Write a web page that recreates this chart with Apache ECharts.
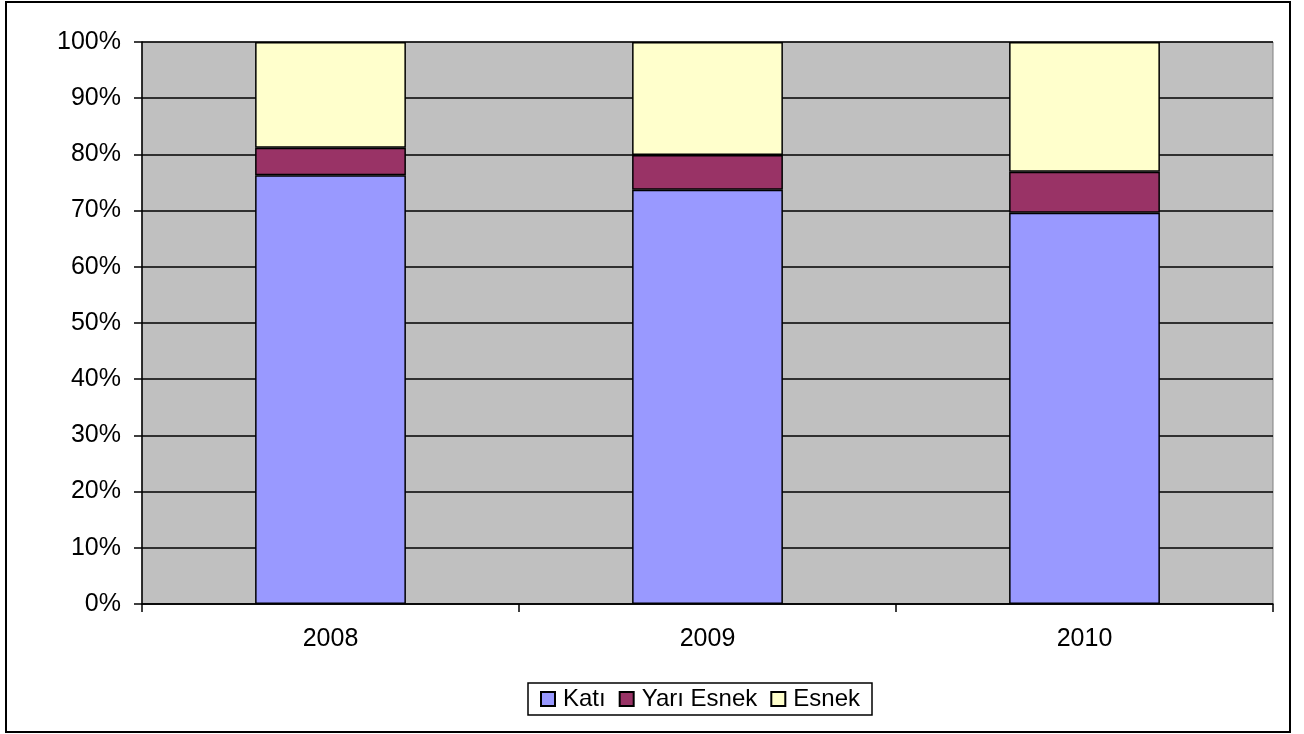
<!DOCTYPE html>
<html>
<head>
<meta charset="utf-8">
<script src="https://cdn.jsdelivr.net/npm/echarts@6/dist/echarts.min.js"></script>
<style>
  html, body { margin: 0; padding: 0; background: #fff; }
  #chart { width: 1304px; height: 734px; }
</style>
</head>
<body>
<div id="chart"></div>
<script>
const years = ['2008', '2009', '2010'];
const kati = [76.3, 73.7, 69.6];
const yariEsnek = [4.9, 6.2, 7.3];
const esnek = [18.8, 20.1, 23.1];

const font = "'Liberation Sans', Arial, sans-serif";

let chart = echarts.init(document.getElementById('chart'));

function barSeries(name, data, color) {
  return {
    name: name,
    type: 'bar',
    stack: 'total',
    barWidth: '40%',
    itemStyle: {
      color: color,
      borderColor: '#000',
      borderWidth: 1.5
    },
    emphasis: { disabled: true },
    data: data
  };
}

let option = {
  animation: false,
  textStyle: { fontFamily: font },
  graphic: [{
    type: 'rect',
    shape: { x: 6, y: 2, width: 1284, height: 730 },
    style: { fill: 'none', stroke: '#000', lineWidth: 2 },
    silent: true
  }],
  grid: {
    left: 142,
    right: 31,
    top: 42,
    bottom: 130,
    show: true,
    backgroundColor: '#c0c0c0',
    borderColor: '#808080',
    borderWidth: 1
  },
  legend: {
    left: 528,
    top: 683,
    padding: [4, 12, 4, 12],
    itemGap: 13,
    itemWidth: 14,
    itemHeight: 14,
    borderColor: '#000',
    borderWidth: 1.5,
    icon: 'rect',
    textStyle: { fontSize: 24, color: '#000', fontFamily: font, padding: [0, 0, 0, 3] },
    data: ['Katı', 'Yarı Esnek', 'Esnek']
  },
  xAxis: {
    type: 'category',
    data: years,
    axisLine: { lineStyle: { color: '#000', width: 1.5 } },
    axisTick: { show: true, length: 8, lineStyle: { color: '#000', width: 1.5 } },
    axisLabel: { fontSize: 25, color: '#000', margin: 23, fontFamily: font }
  },
  yAxis: {
    type: 'value',
    min: 0,
    max: 100,
    interval: 10,
    axisLine: { show: true, lineStyle: { color: '#000', width: 1.5 } },
    axisTick: { show: true, length: 8, lineStyle: { color: '#000', width: 1.5 } },
    axisLabel: { fontSize: 25, color: '#000', margin: 21, formatter: '{value}%', fontFamily: font },
    splitLine: { show: true, lineStyle: { color: '#000', width: 1.5 } }
  },
  series: [
    barSeries('Katı', kati, '#9999ff'),
    barSeries('Yarı Esnek', yariEsnek, '#993366'),
    barSeries('Esnek', esnek, '#ffffcc')
  ]
};

chart.setOption(option);
</script>
</body>
</html>
